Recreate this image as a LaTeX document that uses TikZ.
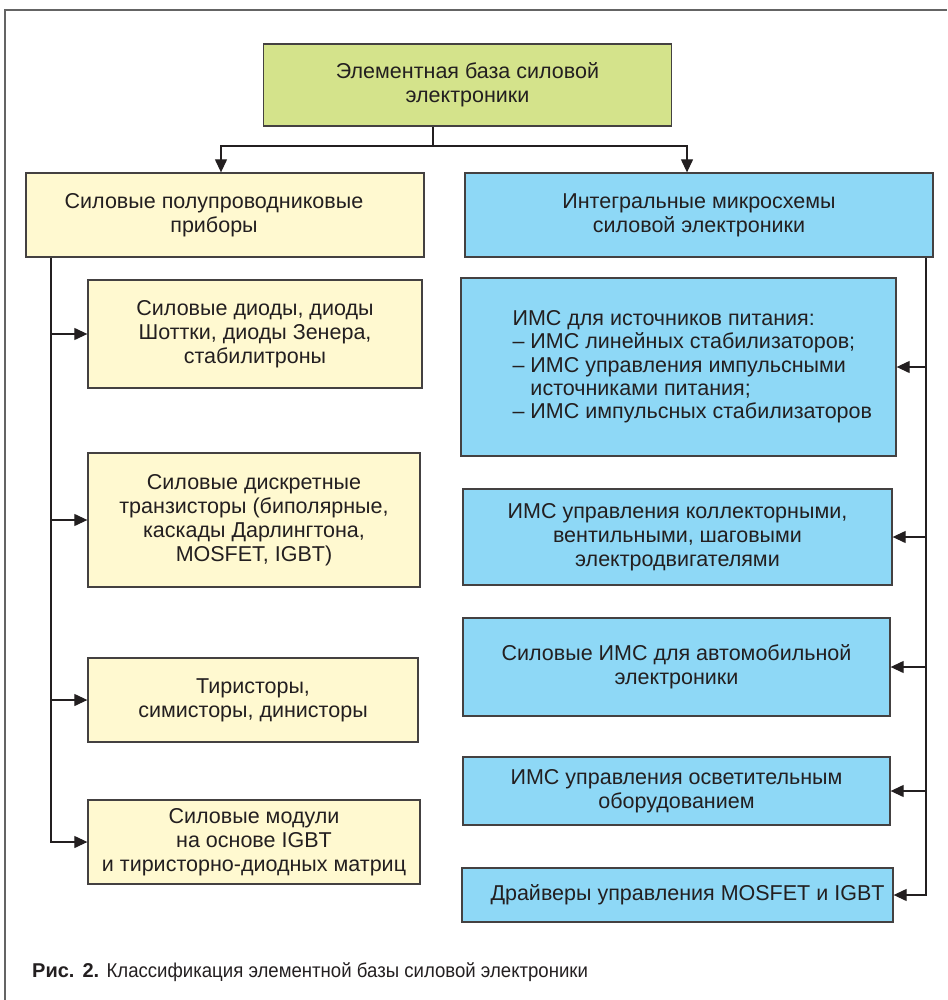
\documentclass[tikz,border=0pt]{standalone}
\usepackage{fontspec}
\setmainfont{Liberation Sans}
\newfontfamily\capfont[FakeStretch=0.93]{Liberation Sans}
\usetikzlibrary{arrows.meta}
\definecolor{boxgreen}{RGB}{212,227,139}
\definecolor{boxyellow}{RGB}{255,249,208}
\definecolor{boxblue}{RGB}{142,216,246}
\definecolor{ink}{RGB}{35,31,32}
\definecolor{framegray}{RGB}{100,100,100}
\tikzset{
  txt/.style={inner sep=0pt, align=center, text=ink, font=\fontsize{21.5}{24}\selectfont},
  box/.style={draw=ink!85, line width=1.3pt, txt},
  gbox/.style={box, fill=boxgreen},
  ybox/.style={box, fill=boxyellow},
  bbox/.style={box, fill=boxblue},
  conn/.style={draw=ink, line width=1.2pt},
  arr/.style={conn, -{Triangle[length=13pt,width=12pt]}},
}
\begin{document}
\begin{tikzpicture}[x=1pt,y=-1pt]
\useasboundingbox (0,0) rectangle (947,1000);
\draw[framegray, line width=1.6pt] (5,1000) -- (5,10) -- (947,10);
% top
\node[gbox, minimum width=408, minimum height=82] (top) at (467.5,85) {Элементная база силовой\\электроники};
% second row
\node[ybox, minimum width=398, minimum height=84,
  label={[txt, xshift=-11pt]center:Силовые полупроводниковые\\приборы}] (l0) at (225,215) {};
\node[bbox, minimum width=468, minimum height=84] (r0) at (699,215) {Интегральные микросхемы\\силовой электроники};
% left column
\node[ybox, minimum width=334, minimum height=108] (l1) at (255,334) {Силовые диоды, диоды\\Шоттки, диоды Зенера,\\стабилитроны};
\node[ybox, minimum width=332, minimum height=134] (l2) at (254,520) {Силовые дискретные\\транзисторы (биполярные,\\каскады Дарлингтона,\\MOSFET, IGBT)};
\node[ybox, minimum width=330, minimum height=84] (l3) at (253,700) {Тиристоры,\\симисторы, динисторы};
\node[ybox, minimum width=332, minimum height=84] (l4) at (254,842) {Силовые модули\\на основе IGBT\\и тиристорно-диодных матриц};
% right column
\node[bbox, minimum width=435, minimum height=178] (r1) at (678.5,367) {};
\node[anchor=west, inner sep=0pt, align=left, text=ink, font=\fontsize{21.5}{23.3}\selectfont] (r1t) at ([xshift=52pt]r1.west)
 {ИМС для источников питания:\\– ИМС линейных стабилизаторов;\\– ИМС управления импульсными\\\phantom{– }источниками питания;\\– ИМС импульсных стабилизаторов};
\node[bbox, minimum width=429, minimum height=96] (r2) at (677.5,537) {ИМС управления коллекторными,\\вентильными, шаговыми\\электродвигателями};
\node[bbox, minimum width=427, minimum height=98] (r3) at (676.5,667) {Силовые ИМС для автомобильной\\электроники};
\node[bbox, minimum width=427, minimum height=68] (r4) at (676.5,791) {ИМС управления осветительным\\оборудованием};
\node[bbox, minimum width=431, minimum height=54] (r5) at (677.5,895) {\hspace*{20pt}Драйверы управления MOSFET и IGBT};
% connectors top
\coordinate (j) at (433,146);
\coordinate (jl) at (221,146);
\coordinate (jr) at (687,146);
\draw[conn] (top.south -| j) -- (j);
\draw[arr] (j) -- (jl) -- (l0.north -| jl);
\draw[arr] (j) -- (jr) -- (r0.north -| jr);
% left trunk
\coordinate (lx) at (51,0);
\draw[arr] (l0.south -| lx) |- (l4.west);
\draw[arr] (lx |- l1.west) -- (l1.west);
\draw[arr] (lx |- l2.west) -- (l2.west);
\draw[arr] (lx |- l3.west) -- (l3.west);
% right trunk
\coordinate (rx) at (926,0);
\draw[arr] (r0.south -| rx) |- (r5.east);
\draw[arr] (rx |- r1.east) -- (r1.east);
\draw[arr] (rx |- r2.east) -- (r2.east);
\draw[arr] (rx |- r3.east) -- (r3.east);
\draw[arr] (rx |- r4.east) -- (r4.east);
% caption
\node[anchor=base west, inner sep=0pt, text=ink, font=\fontsize{20}{24}\selectfont] (cap) at (32,977) {\textbf{Рис.\hspace{0.4em}2.} {\capfont Классификация элементной базы силовой электроники}};
\end{tikzpicture}
\end{document}
